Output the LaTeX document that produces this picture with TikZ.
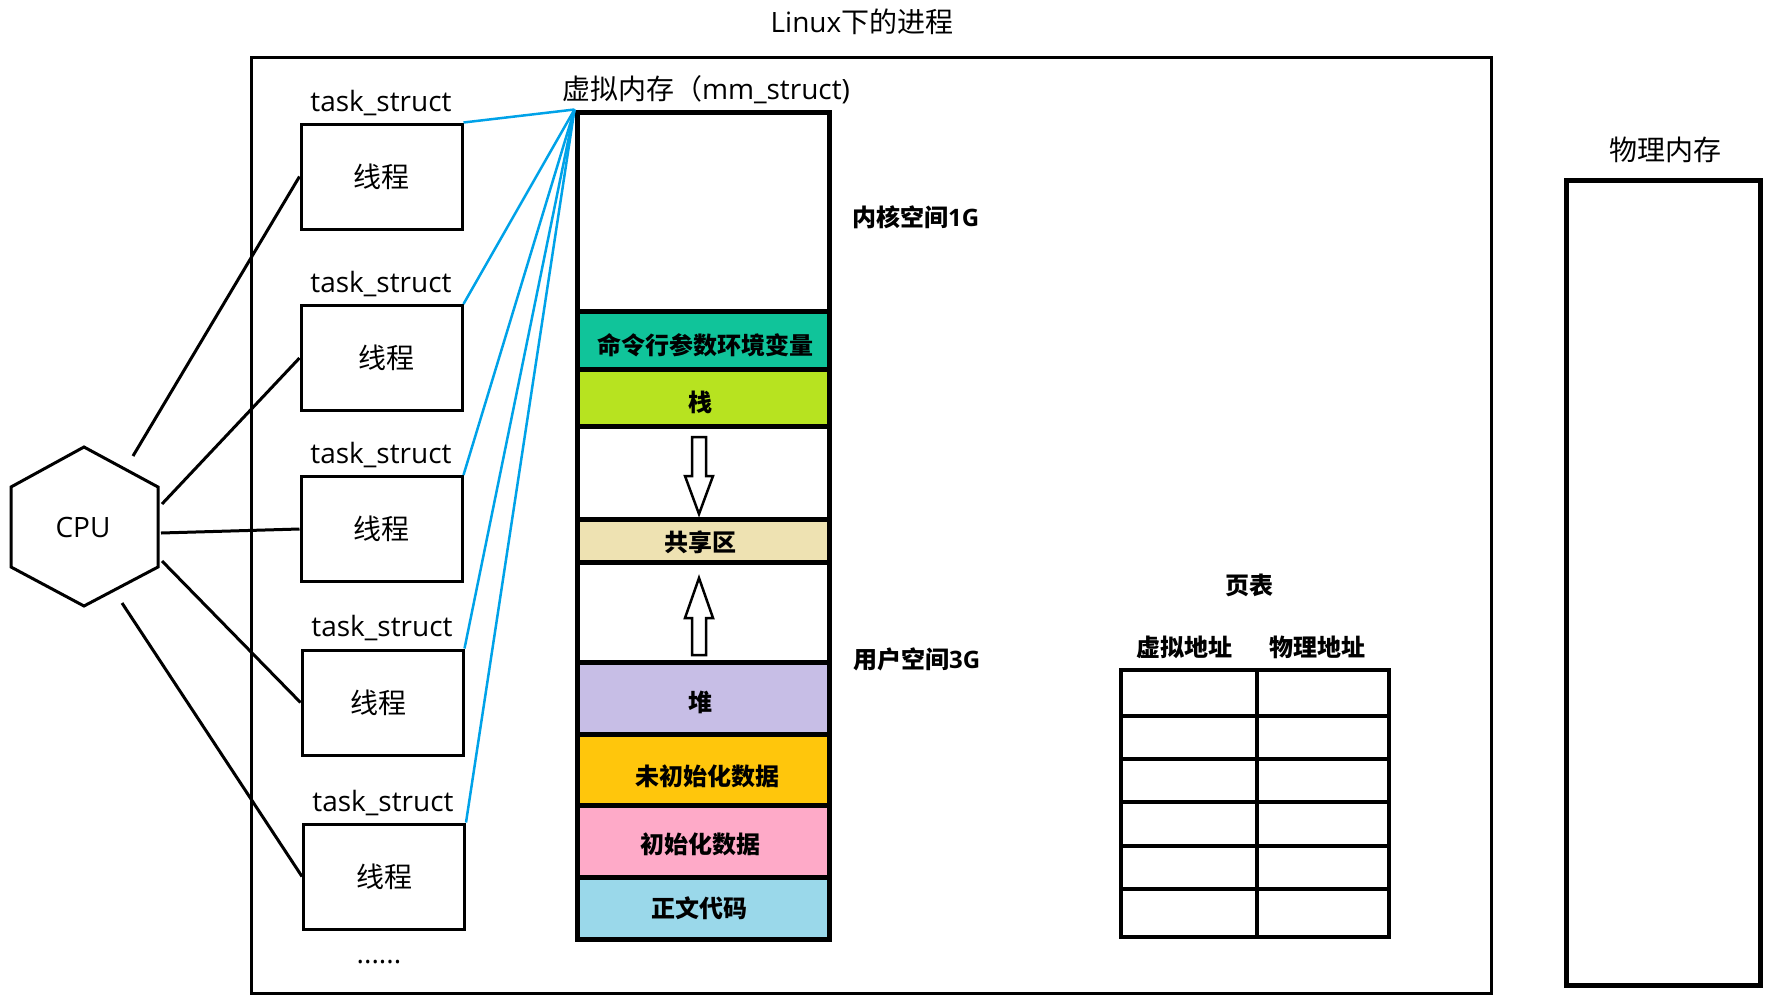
\documentclass[tikz,border=0pt]{standalone}
\usepackage{fontspec}
\setmainfont{Open Sans}
\newfontfamily\cjk{Noto Sans CJK SC}
\definecolor{cgreen}{RGB}{16,196,154}
\definecolor{clime}{RGB}{183,227,32}
\definecolor{ctan}{RGB}{238,226,178}
\definecolor{cpurple}{RGB}{199,190,230}
\definecolor{corange}{RGB}{255,198,12}
\definecolor{cpink}{RGB}{254,170,200}
\definecolor{clblue}{RGB}{154,216,234}
\definecolor{cline}{RGB}{0,162,232}
\tikzset{
  thread/.style={draw, line width=3pt, minimum width=161pt, minimum height=105pt, inner sep=0pt, font=\cjk\fontsize{28}{34}\selectfont},
  lbl/.style={inner sep=0pt, font=\fontsize{28}{34}\selectfont},
  seg/.style={draw, line width=5pt, minimum width=252pt, inner sep=0pt},
  segtxt/.style={inner sep=0pt, font=\cjk\bfseries\fontsize{24}{28}\selectfont},
  blbl/.style={inner sep=0pt, font=\bfseries\fontsize{24}{28}\selectfont},
  blueline/.style={draw=cline, line width=2.5pt},
  cpuline/.style={draw, line width=3pt},
  hollow/.style={draw, line width=2.5pt, fill=white, line join=miter},
}
\begin{document}
\begin{tikzpicture}[x=1pt,y=-1pt]
\useasboundingbox (0,0) rectangle (1780,999);
% title and outer frame
\node[lbl] (title) at (862,22) {Linux{\cjk 下的进程}};
\draw[line width=3pt] (251,57) rectangle (1491,993);

% virtual memory column
\node[lbl] (vmtitle) at (706,90) {{\cjk 虚拟内存（}mm\_struct)};
\node[seg, fill=white, minimum height=199pt] (kern) at (703,211.5) {};
\node[seg, fill=cgreen, minimum height=58pt] (env) at (703,340) {};
\node[seg, fill=clime, minimum height=57pt] (stack) at (703,397.5) {};
\node[seg, fill=white, minimum height=93pt] (gap1) at (703,472.5) {};
\node[seg, fill=ctan, minimum height=43pt] (shared) at (703,540.5) {};
\node[seg, fill=white, minimum height=100pt] (gap2) at (703,612) {};
\node[seg, fill=cpurple, minimum height=72pt] (heap) at (703,698) {};
\node[seg, fill=corange, minimum height=71pt] (bss) at (703,769.5) {};
\node[seg, fill=cpink, minimum height=72pt] (data) at (703,841) {};
\node[seg, fill=clblue, minimum height=62pt] (text) at (703,908) {};
\node[segtxt] (envt) at (705,345) {命令行参数环境变量};
\node[segtxt] (stackt) at (700,402) {栈};
\node[segtxt] (sharedt) at (700,542) {共享区};
\node[segtxt] (heapt) at (700,702) {堆};
\node[segtxt] (bsst) at (707,776) {未初始化数据};
\node[segtxt] (datat) at (700,844) {初始化数据};
\node[segtxt] (textt) at (699,908) {正文代码};

% growth arrows
\draw[hollow] (692,437) -- (706,437) -- (706,476) -- (713,476) -- (699,514) -- (685,476) -- (692,476) -- cycle;
\draw[hollow] (692,655) -- (706,655) -- (706,618) -- (713,618) -- (699,578) -- (685,618) -- (692,618) -- cycle;

\node[blbl, anchor=west] (klbl) at (852,217) {{\cjk 内核空间}1G};
\node[blbl, anchor=west] (ulbl) at (853,659) {{\cjk 用户空间}3G};

% threads
\node[thread] (t1) at (381.5,176.5) {线程};
\node[thread] (t2) at (381.5,358) {\hspace{10pt}线程};
\node[thread] (t3) at (381.5,529) {线程};
\node[thread] (t4) at (382.5,702.5) {\hspace*{-8pt}线程};
\node[thread] (t5) at (384,876.5) {线程};
\node[lbl] (ts1) at (381,103) {task\_struct};
\node[lbl] (ts2) at (381,284) {task\_struct};
\node[lbl] (ts3) at (381,455) {task\_struct};
\node[lbl] (ts4) at (382,628) {task\_struct};
\node[lbl] (ts5) at (383,803) {task\_struct};
\node[lbl] (dots) at (379,962) {......};

\coordinate (vm) at (kern.north west);
\foreach \t in {t1,t2,t3,t4,t5} \draw[blueline] (vm) -- (\t.north east);

% CPU
\draw[line width=3pt, line join=miter] (84,447) -- (158,487) -- (158,567) -- (84,606) -- (11,567) -- (11,487) -- cycle;
\node[lbl] (cpu) at (83,527) {CPU};
\coordinate (c1) at (133,456);
\coordinate (c2) at (162,504);
\coordinate (c3) at (161,533);
\coordinate (c4) at (162,561);
\coordinate (c5) at (122,603);
\draw[cpuline] (c1) -- (t1.west);
\draw[cpuline] (c2) -- (t2.west);
\draw[cpuline] (c3) -- (t3.west);
\draw[cpuline] (c4) -- (t4.west);
\draw[cpuline] (c5) -- (t5.west);

% page table
\node[blbl] (pt) at (1249,585) {{\cjk 页表}};
\node[blbl] (va) at (1184,647) {{\cjk 虚拟地址}};
\node[blbl] (pa) at (1317,647) {{\cjk 物理地址}};
\draw[line width=4pt] (1121,670) rectangle (1389,937);
\draw[line width=4pt] (1257,670) -- (1257,937);
\foreach \yy in {716,759,802,846,889} \draw[line width=4pt] (1121,\yy) -- (1389,\yy);

% physical memory
\node[lbl] (pm) at (1665,150) {{\cjk 物理内存}};
\draw[line width=5pt] (1566,180) rectangle (1760,985);
\end{tikzpicture}
\end{document}
